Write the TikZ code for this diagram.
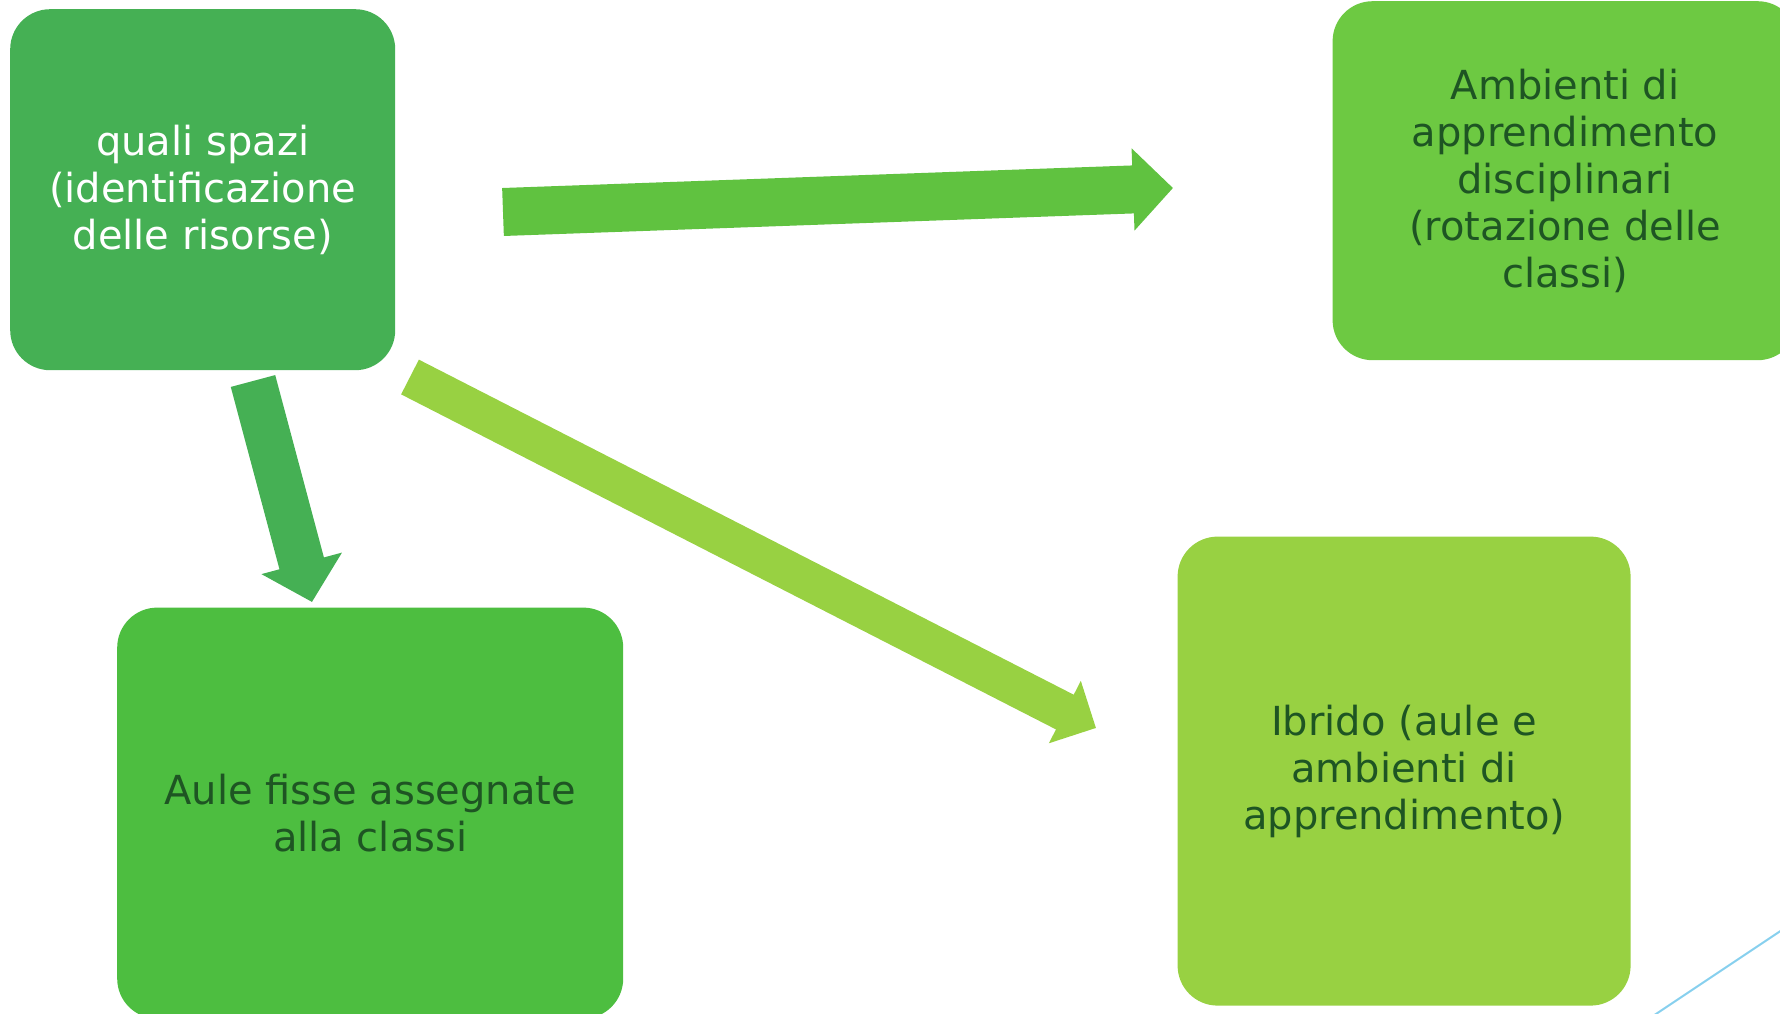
\documentclass[tikz,border=0pt]{standalone}
\usepackage{fontspec}
\setmainfont{DejaVu Sans}
\usetikzlibrary{positioning,arrows.meta}
\definecolor{verdescuro}{RGB}{69,176,84}
\definecolor{verdeprato}{RGB}{109,201,66}
\definecolor{verdemedio}{RGB}{77,190,64}
\definecolor{verdelime}{RGB}{152,209,66}
\definecolor{verdefreccia}{RGB}{96,194,64}
\definecolor{testoscuro}{RGB}{30,85,35}
\definecolor{azzurro}{RGB}{135,208,238}

\begin{document}
\begin{tikzpicture}[x=1pt,y=-1pt,
        box/.style={rectangle, rounded corners=40pt, inner sep=0pt, align=center,
            font=\fontsize{40}{47}\selectfont, text=testoscuro},
        blockarrow/.style={line width=#1, line cap=butt}]
        \useasboundingbox (0,0) rectangle (1780,1014);
        \node [box, fill=verdescuro, text=white, minimum width=385pt, minimum height=361pt,
            anchor=north west] (quali) at (10,9)
            {quali spazi\\(identificazione\\delle risorse)};
        \node [box, fill=verdeprato, minimum width=465pt, minimum height=359pt,
            right=937pt of quali.north east, anchor=north west, yshift=8pt] (ambienti)
            {Ambienti di\\apprendimento\\disciplinari\\(rotazione delle\\classi)};
        \node [box, fill=verdemedio, minimum width=506pt, minimum height=411pt,
            below=237pt of quali.south west, anchor=north west, xshift=107pt] (aule)
            {Aule fisse assegnate\\alla classi};
        \node [box, fill=verdelime, minimum width=453pt, minimum height=469pt,
            below=176pt of ambienti.south west, anchor=north west, xshift=-155pt] (ibrido)
            {Ibrido (aule e\\ambienti di\\apprendimento)};
        \coordinate (a1) at (503,212);
        \coordinate (a2) at (1173,188);
        \coordinate (b1) at (253,381);
        \coordinate (b2) at (312,602);
        \coordinate (c1) at (410,377);
        \coordinate (c2) at (1096,728);
        \draw [blockarrow=48pt, verdefreccia, -{Triangle[width=80pt,length=40pt]}] (a1) -- (a2);
        \draw [blockarrow=46pt, verdescuro, -{Triangle[width=81pt,length=40pt]}] (b1) -- (b2);
        \draw [blockarrow=39pt, verdelime, -{Triangle[width=68pt,length=35pt]}] (c1) -- (c2);
        \draw [azzurro, line width=2pt] (1653,1016) -- (1782,930);
\end{tikzpicture}
\end{document}
